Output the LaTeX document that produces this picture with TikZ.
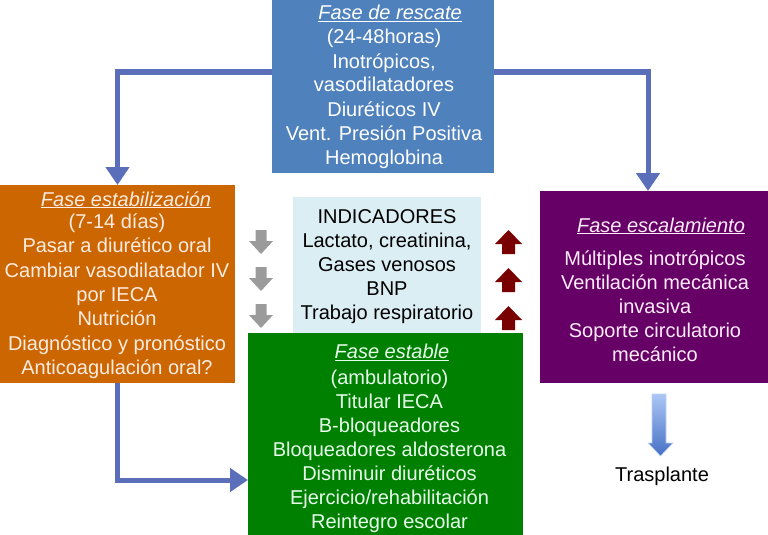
\documentclass[tikz,border=0pt]{standalone}
\usepackage{fontspec}
\setmainfont{Liberation Sans}
\usetikzlibrary{arrows.meta,calc}
\definecolor{rescblue}{RGB}{79,129,189}
\definecolor{connblue}{RGB}{90,110,186}
\definecolor{estorange}{RGB}{204,102,0}
\definecolor{stabgreen}{RGB}{0,128,0}
\definecolor{escpurple}{RGB}{102,0,102}
\definecolor{indblue}{RGB}{219,238,243}
\definecolor{arrgray}{RGB}{155,155,155}
\definecolor{arrred}{RGB}{120,0,0}
\definecolor{txtorange}{RGB}{255,236,228}
\definecolor{txtgreen}{RGB}{232,255,236}
\definecolor{txtpurple}{RGB}{255,236,250}
\definecolor{gradtop}{RGB}{172,198,245}
\definecolor{gradbot}{RGB}{70,112,196}
\begin{document}
\begin{tikzpicture}[x=1pt,y=-1pt,
  box/.style={draw=none,inner sep=0pt,outer sep=0pt,anchor=north west},
  txt/.style={inner sep=0pt,outer sep=0pt,anchor=base,font=\fontsize{20}{24}\selectfont},
  ttl/.style={txt,font=\fontsize{20}{24}\selectfont\itshape},
  conn/.style={draw=connblue,line width=5pt,-{Triangle[width=23pt,length=18pt]}},
  dnarrow/.pic={\fill[arrgray] (-5.5,0) -- (5.5,0) -- (5.5,11) -- (12,11) -- (0,24) -- (-12,11) -- (-5.5,11) -- cycle;},
  uparrow/.pic={\fill[arrred] (0,0) -- (13.5,14) -- (6.5,14) -- (6.5,24) -- (-6.5,24) -- (-6.5,14) -- (-13.5,14) -- cycle;}
]
\useasboundingbox (0,0) rectangle (768,535);

% boxes
\node[box,fill=rescblue,minimum width=222pt,minimum height=173pt] (resc) at (272,0) {};
\node[box,fill=estorange,minimum width=235pt,minimum height=198pt] (estab) at (0,185) {};
\node[box,fill=indblue,minimum width=188pt,minimum height=136pt] (ind) at (293,197) {};
\node[box,fill=stabgreen,minimum width=275pt,minimum height=202pt] (stab) at (248,333) {};
\node[box,fill=escpurple,minimum width=228pt,minimum height=192pt] (esc) at (540,191) {};

% connectors
\draw[conn] (resc.west |- 0,72) -| (estab.north);
\draw[conn] (resc.east |- 0,72) -| ([xshift=108pt]esc.north west);
\draw[conn] (estab.south) |- (stab.west |- 0,480);

% rescate text
\node[ttl,text=white] (rt) at (390,20) {\underline{Fase de rescate}};
\foreach \t [count=\i] in {(24-48horas),{Inotrópicos,},vasodilatadores,Diuréticos IV,Vent. Presión Positiva,Hemoglobina}
  \node[txt,text=white] (r\i) at (384,{20+24*\i}) {\t};

% estabilizacion text
\node[ttl,text=txtorange] (et) at (126,206) {\underline{Fase estabilización}};
\foreach \t [count=\i] in {(7-14 días),Pasar a diurético oral,Cambiar vasodilatador IV,por IECA,Nutrición,Diagnóstico y pronóstico,Anticoagulación oral?}
  \node[txt,text=txtorange] (e\i) at (117,{204.2+24.3*\i}) {\t};

% indicadores text
\foreach \t [count=\i] in {INDICADORES,{Lactato, creatinina,},Gases venosos,BNP,Trabajo respiratorio}
  \node[txt,text=black] (n\i) at (387,{199+24*\i}) {\t};

% estable text
\node[ttl,text=txtgreen] (st) at (392,358.5) {\underline{Fase estable}};
\foreach \t [count=\i] in {(ambulatorio),Titular IECA,B-bloqueadores,Bloqueadores aldosterona,Disminuir diuréticos,Ejercicio/rehabilitación,Reintegro escolar}
  \node[txt,text=txtgreen] (s\i) at (389.5,{360.5+24*\i}) {\t};

% escalamiento text
\node[ttl,text=txtpurple] (ct) at (661,232) {\underline{Fase escalamiento}};
\foreach \t [count=\i] in {Múltiples inotrópicos,Ventilación mecánica,invasiva,Soporte circulatorio,mecánico}
  \node[txt,text=txtpurple] (c\i) at (655,{240.8+24.2*\i}) {\t};

% small arrows
\foreach \yy/\nm in {230/g1,267/g2,304/g3}
  \pic (\nm) at (261,\yy) {dnarrow};
\foreach \yy/\nm in {230/u1,268/u2,306/u3}
  \pic (\nm) at (508.5,\yy) {uparrow};

% transplant arrow
\shade[top color=gradtop,bottom color=gradbot,draw=gradtop!80!white,line width=0.6pt]
  (652,394) -- (666,394) -- (666,443) -- (673,443) -- (660.5,456) -- (648,443) -- (652,443) -- cycle;
\node[txt,text=black] (tr) at (662,481) {Trasplante};
\end{tikzpicture}
\end{document}
